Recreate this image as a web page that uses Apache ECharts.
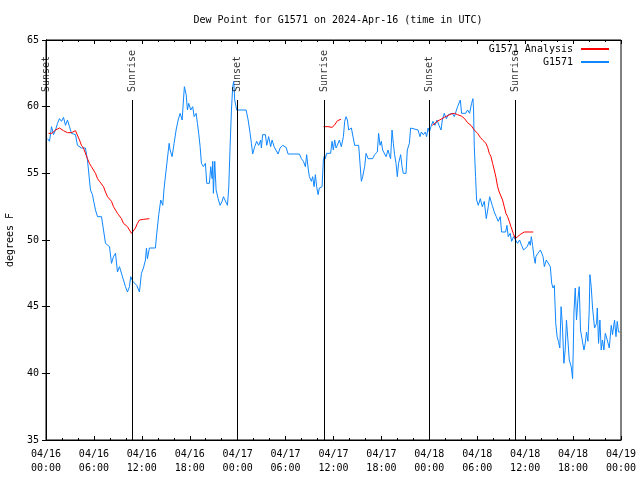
<!DOCTYPE html>
<html>
<head>
<meta charset="utf-8">
<script src="https://cdn.jsdelivr.net/npm/echarts@6/dist/echarts.min.js"></script>
<style>html,body{margin:0;padding:0;background:#fff}#c{width:640px;height:480px}</style>
</head>
<body>
<div id="c"></div>
<script>
// ---- data (hours since 2024-04-16 00:00 UTC, degrees F) ----
const titleText = 'Dew Point for G1571 on 2024-Apr-16 (time in UTC)';
const yTitle = 'degrees F';
const obsName = 'G1571';
const anaName = 'G1571 Analysis';

const g1571Obs = [
[0.19,57.6],[0.44,57.4],[0.69,58.5],[0.94,57.9],[1.19,58.25],[1.44,58.75],[1.69,59.1],[1.94,58.9],[2.19,59.2],[2.44,58.6],
[2.69,59.0],[2.94,58.5],[3.19,58.0],[3.44,58.1],[3.69,57.9],[3.94,57.1],[4.19,57.0],[4.44,56.9],[4.94,56.9],[5.19,56.0],
[5.32,55.25],[5.44,54.5],[5.57,53.75],[5.82,53.4],[5.94,53.0],[6.2,52.25],[6.45,51.75],[6.95,51.75],[7.2,50.75],[7.45,49.75],
[7.95,49.5],[8.2,48.25],[8.45,48.75],[8.7,49.0],[8.95,47.6],[9.2,48.0],[9.45,47.9],[9.7,47.0],[9.95,46.5],[10.2,46.1],
[10.45,46.5],[10.61,47.25],[10.86,46.9],[11.11,47.0],[11.36,46.6],[11.7,46.1],[11.95,47.5],[12.2,47.9],[12.45,48.5],[12.58,49.4],
[12.7,48.6],[12.95,49.4],[13.7,49.4],[13.87,50.5],[14.12,51.9],[14.37,53.0],[14.62,52.6],[14.79,53.9],[15.04,55.25],[15.29,55.4],
[15.42,57.25],[15.54,56.75],[15.79,56.25],[16.04,57.25],[16.29,58.25],[16.55,59.0],[16.8,59.5],[17.05,59.0],[17.21,60.5],[17.33,61.5],
[17.55,60.9],[17.71,59.75],[17.87,60.25],[18.12,59.75],[18.37,60.0],[18.55,59.25],[18.8,59.5],[18.96,58.75],[19.12,58.0],[19.3,57.0],
[19.46,55.75],[19.71,55.5],[19.96,55.75],[20.13,54.25],[20.46,54.25],[20.63,55.5],[20.8,54.6],[20.88,55.9],[20.96,53.5],[21.13,55.9],
[21.3,53.75],[21.55,53.1],[21.8,52.6],[22.05,52.9],[22.22,53.25],[22.47,53.1],[22.72,52.6],[22.88,53.9],[23.05,57.0],[23.22,59.75],
[23.38,61.5],[23.51,61.9],[23.63,60.5],[23.88,59.75],[25.06,59.75],[25.31,59.0],[25.56,58.0],[25.72,57.25],[25.88,56.45],[26.13,57.0],
[26.38,57.4],[26.63,57.1],[26.88,57.5],[26.97,56.9],[27.13,57.9],[27.47,57.9],[27.64,57.1],[27.88,57.75],[28.13,57.0],[28.31,57.5],
[28.56,57.0],[28.81,56.9],[29.06,56.45],[29.31,56.9],[29.64,57.1],[29.89,57.25],[30.06,56.95],[30.31,56.45],[31.73,56.45],[31.98,56.1],
[32.23,55.9],[32.48,55.5],[32.64,56.4],[32.82,55.4],[32.98,54.75],[33.23,54.4],[33.39,54.75],[33.57,54.0],[33.73,54.9],[33.89,54.0],
[34.07,53.4],[34.23,53.9],[34.39,54.0],[34.57,54.0],[34.73,56.0],[34.89,56.4],[34.98,56.1],[35.14,56.5],[35.39,56.6],[35.64,56.5],
[35.82,57.4],[35.98,56.75],[36.15,57.5],[36.32,56.9],[36.48,57.1],[36.73,57.5],[36.98,57.0],[37.24,57.75],[37.4,58.9],[37.57,59.25],
[37.74,59.0],[37.9,58.25],[38.24,58.4],[38.4,58.25],[38.65,57.1],[38.9,57.25],[39.15,57.1],[39.32,55.75],[39.49,54.4],[39.65,54.75],
[39.9,55.5],[40.08,56.5],[40.33,56.1],[40.9,56.1],[41.15,56.4],[41.49,56.6],[41.65,58.0],[41.83,57.1],[41.99,57.4],[42.15,56.75],
[42.4,56.75],[42.58,56.25],[42.83,56.75],[42.99,56.4],[43.15,56.1],[43.33,58.25],[43.49,57.25],[43.65,56.4],[43.83,55.75],[43.99,54.75],
[44.15,55.75],[44.41,56.4],[44.58,55.5],[44.74,55.0],[45.08,55.0],[45.24,56.75],[45.5,57.25],[45.66,58.4],[45.91,58.25],[46.58,58.25],
[46.83,57.75],[47.0,58.1],[47.25,57.9],[47.5,58.1],[47.66,57.75],[47.84,58.4],[48.0,58.1],[48.2,58.5],[48.45,58.9],[48.71,58.6],
[48.96,59.0],[49.21,58.6],[49.46,58.25],[49.63,59.0],[49.87,59.5],[50.13,59.1],[50.38,59.4],[50.63,59.25],[50.88,59.5],[51.13,59.25],
[51.38,59.4],[51.54,60.0],[51.71,60.1],[51.88,60.5],[52.04,59.5],[52.29,59.6],[52.54,59.5],[52.79,59.75],[53.04,59.5],[53.29,60.25],
[53.46,60.6],[53.54,59.75],[53.63,57.0],[53.79,54.75],[53.92,53.0],[54.13,52.6],[54.38,53.1],[54.63,52.5],[54.88,52.9],[55.13,51.6],
[55.38,52.5],[55.55,53.25],[55.88,52.6],[56.13,52.1],[56.38,51.75],[56.63,51.4],[56.88,51.75],[57.05,50.6],[57.55,50.6],[57.72,51.1],
[57.88,50.25],[58.13,50.5],[58.3,49.9],[58.55,50.25],[58.8,50.0],[59.05,49.75],[59.3,50.0],[59.55,49.6],[59.8,49.25],[60.01,49.25],
[60.26,49.5],[60.51,49.9],[60.64,49.6],[60.77,50.25],[60.93,49.6],[61.1,48.75],[61.26,48.25],[61.34,48.75],[61.59,49.0],[61.75,48.9],
[61.91,49.25],[62.08,49.0],[62.24,48.75],[62.4,48.0],[62.65,48.5],[62.9,48.4],[63.15,48.0],[63.32,46.75],[63.49,46.4],[63.65,46.6],
[63.83,43.75],[64.0,42.75],[64.16,42.4],[64.34,41.9],[64.5,45.0],[64.67,43.5],[64.85,40.75],[65.01,41.75],[65.17,44.0],[65.35,42.5],
[65.52,41.0],[65.77,40.5],[65.94,39.6],[66.02,41.75],[66.11,44.6],[66.27,46.4],[66.43,44.0],[66.61,45.6],[66.77,46.5],[66.93,43.25],
[67.18,43.1],[67.36,41.75],[67.52,42.25],[67.68,43.1],[67.86,42.4],[68.02,44.75],[68.11,47.4],[68.27,46.5],[68.44,44.9],[68.69,43.4],
[68.94,43.75],[69.03,44.9],[69.19,42.25],[69.36,44.0],[69.52,41.75],[69.68,42.5],[69.86,41.75],[70.03,43.0],[70.28,42.5],[70.53,41.9],
[70.78,43.6],[70.94,42.9],[71.19,44.0],[71.37,42.75],[71.53,43.9],[71.69,43.1],[71.87,43.1]
];

const analysisSeg1 = [
[0.31,58.0],[0.73,58.0],[1.19,58.25],[1.69,58.4],[2.19,58.2],[2.69,58.05],[3.19,58.05],[3.69,58.2],[3.94,58.1],[4.19,57.5],
[4.44,57.1],[4.69,56.9],[4.94,56.75],[5.19,56.1],[5.44,55.75],[5.69,55.5],[5.94,55.25],[6.2,55.0],[6.45,54.6],[6.7,54.4],
[6.95,54.4],[7.2,54.0],[7.45,53.6],[7.7,53.25],[7.95,53.1],[8.2,52.9],[8.45,52.5],[8.7,52.25],[8.95,52.0],[9.2,51.9],
[9.45,51.6],[9.7,51.25],[9.95,51.1],[10.2,51.0],[10.45,50.75],[10.7,50.5],[10.86,50.45],[11.2,50.9],[11.45,51.25],[11.7,51.5],
[12.2,51.55],[12.95,51.6]
];
const analysisSeg2 = [
[34.76,58.5],[35.3,58.5],[35.82,58.45],[36.1,58.6],[36.5,58.95],[36.93,59.05]
];
const analysisSeg3 = [
[48.37,58.6],[49.0,58.9],[49.87,59.2],[50.71,59.45],[51.13,59.5],[51.54,59.4],[52.0,59.3],[52.42,59.1],[52.79,58.8],[53.21,58.6],
[53.63,58.25],[54.04,58.0],[54.38,57.7],[54.67,57.5],[55.09,57.25],[55.3,56.95],[55.51,56.5],[55.72,56.25],[55.92,55.75],[56.13,55.25],
[56.34,54.7],[56.55,54.0],[56.75,53.6],[56.97,53.5],[57.17,53.0],[57.38,52.5],[57.59,52.0],[57.8,51.75],[58.01,51.4],[58.22,51.0],
[58.51,50.5],[58.76,50.1],[59.05,50.25],[59.47,50.45],[59.88,50.6],[60.51,50.6],[61.01,50.6]
];

const sunTimes  = [0.0, 10.84, 24.0, 34.89, 48.03, 58.8];
const sunLabels = ['Sunset','Sunrise','Sunset','Sunrise','Sunset','Sunrise'];
const sunLineTop = 60.5;

// ---- build ----
const FONT = 'DejaVu Sans Mono';
const analysisData = [].concat(analysisSeg1, [[13.5, null]], analysisSeg2, [[40, null]], analysisSeg3);
const pad = n => (n < 10 ? '0' : '') + n;
const xFmt = v => '04/' + (16 + Math.floor(v / 24)) + '\n' + pad(v % 24) + ':00';

const xBase = {
  type: 'value', min: 0, max: 72, interval: 6,
  axisLine: { show: true, lineStyle: { color: '#000', width: 1 } },
  axisTick: { show: true, inside: true, length: 4, lineStyle: { color: '#000' } },
  minorTick: { show: true, splitNumber: 3, length: 2, lineStyle: { color: '#000' } },
  splitLine: { show: false }, minorSplitLine: { show: false }
};
const yBase = {
  type: 'value', min: 35, max: 65, interval: 5,
  axisLine: { show: true, lineStyle: { color: '#000', width: 1 } },
  axisTick: { show: true, inside: true, length: 4, lineStyle: { color: '#000' } },
  splitLine: { show: false }
};

const chart = echarts.init(document.getElementById('c'), null, { renderer: 'canvas' });
chart.setOption({
  animation: false,
  backgroundColor: '#fff',
  title: {
    text: titleText, left: 333, top: 10, textAlign: 'center',
    textStyle: { fontFamily: FONT, fontSize: 10, fontWeight: 'normal', color: '#000' }
  },
  grid: {
    left: 46, right: 19, top: 40, bottom: 40, show: true, borderColor: '#000', borderWidth: 1,
    backgroundColor: 'transparent', containLabel: false, outerBoundsMode: 'none'
  },
  legend: {
    data: [anaName, obsName], orient: 'vertical', align: 'right',
    right: 30, top: 43, padding: 0, itemWidth: 28, itemHeight: 12, itemGap: 1,
    itemStyle: { opacity: 0 },
    textStyle: { fontFamily: FONT, fontSize: 10, color: '#000', lineHeight: 12, padding: [0, 3, 0, 0] }
  },
  xAxis: [
    Object.assign({}, xBase, {
      position: 'bottom',
      axisLabel: { formatter: xFmt, fontFamily: FONT, fontSize: 10, color: '#000', lineHeight: 14, margin: 7 }
    }),
    Object.assign({}, xBase, { position: 'top', axisLabel: { show: false } })
  ],
  yAxis: [
    Object.assign({}, yBase, {
      position: 'left', name: yTitle, nameLocation: 'middle', nameGap: 31,
      nameTextStyle: { fontFamily: FONT, fontSize: 10, color: '#000' },
      axisLabel: { fontFamily: FONT, fontSize: 10, color: '#000', margin: 7 }
    }),
    Object.assign({}, yBase, { position: 'right', axisLabel: { show: false } })
  ],
  series: [
    {
      name: obsName, type: 'line', data: g1571Obs, showSymbol: false, symbol: 'none',
      lineStyle: { color: '#0f87ff', width: 1 }, itemStyle: { color: '#0f87ff' }, z: 3
    },
    {
      name: anaName, type: 'line', data: analysisData, showSymbol: false, symbol: 'none', connectNulls: false,
      lineStyle: { color: '#ff0000', width: 1 }, itemStyle: { color: '#ff0000' }, z: 4
    },
    {
      name: 'sun', type: 'scatter', symbolSize: 0, silent: true, z: 5,
      data: sunTimes.map((t, i) => ({ value: [t, sunLineTop], name: sunLabels[i] })),
      label: {
        show: true, formatter: p => p.name, rotate: 90, position: 'top', distance: 8,
        align: 'left', verticalAlign: 'middle',
        fontFamily: FONT, fontSize: 10, color: '#000'
      },
      markLine: {
        silent: true, symbol: ['none', 'none'], animation: false,
        label: { show: false },
        lineStyle: { color: '#000', width: 1, type: 'solid' },
        data: sunTimes.map(t => [{ coord: [t, 35] }, { coord: [t, sunLineTop] }])
      }
    }
  ]
});
</script>
</body>
</html>
